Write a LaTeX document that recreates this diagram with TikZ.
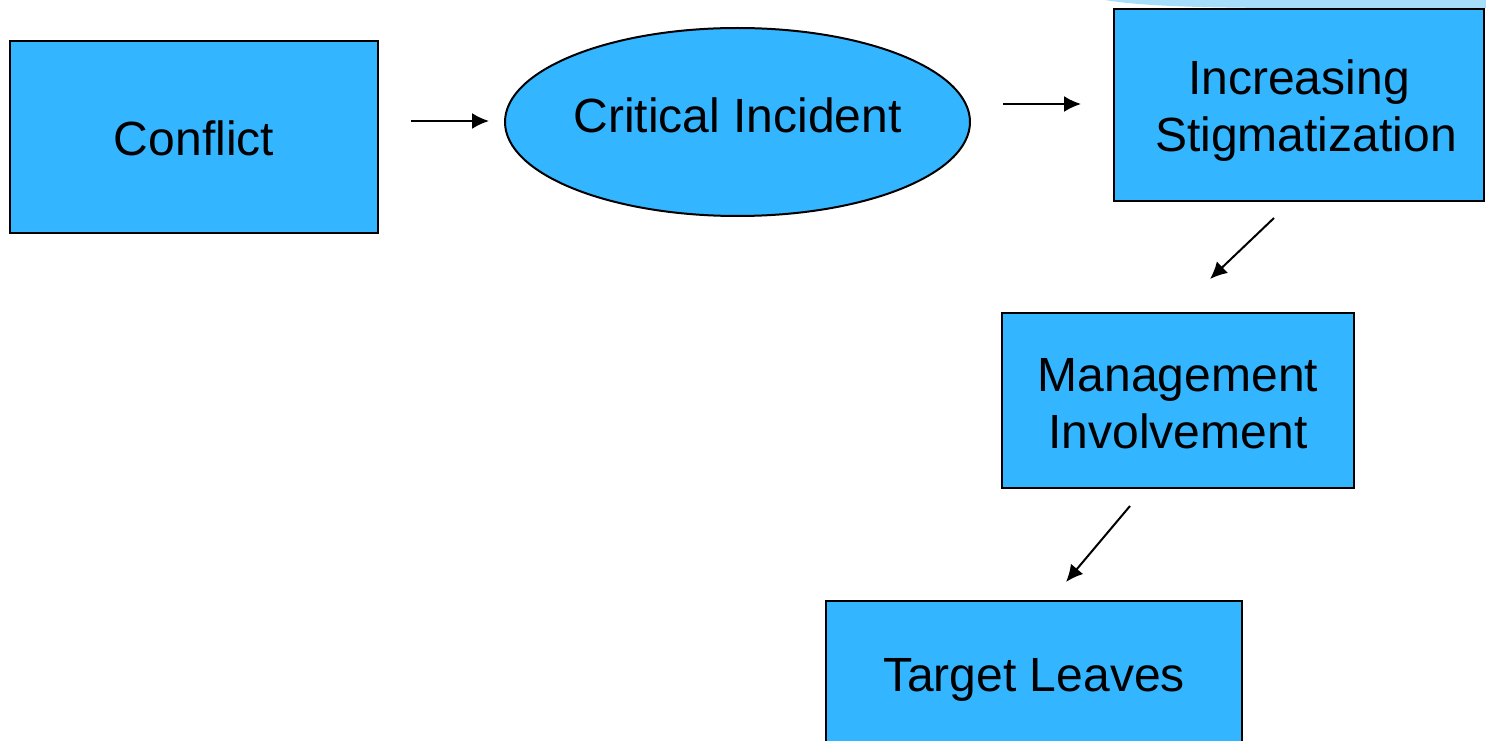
\documentclass[tikz,border=0pt]{standalone}
\usepackage{fontspec}
\setmainfont{Liberation Sans}
\usetikzlibrary{arrows.meta,shapes.geometric}
\definecolor{boxblue}{HTML}{33B5FF}
\definecolor{swoosh}{HTML}{A6DDFB}
\begin{document}
\begin{tikzpicture}[x=1pt,y=-1pt,
  box/.style={draw=black,line width=2pt,fill=boxblue,inner sep=0pt},
  txt/.style={inner sep=0pt,align=center,font=\fontsize{48}{57}\selectfont},
  arr/.style={line width=2pt,-{Latex[length=17pt,width=16pt]}}]
\useasboundingbox (0,0) rectangle (1486,741);
\clip (0,0) rectangle (1486,741);
\fill[white] (0,0) rectangle (1486,741);
\fill[swoosh] (1105,0) .. controls (1140,6) and (1200,8) .. (1300,8) -- (1486,8) -- (1486,0) -- cycle;
\node[box,minimum width=368pt,minimum height=192pt,
  label={[txt,yshift=-1pt]center:Conflict}] (conflict) at (194,137) {};
\node[box,ellipse,minimum width=465pt,minimum height=188pt,
  label={[txt,yshift=7pt]center:Critical Incident}] (critical) at (737.5,122) {};
\node[box,minimum width=370pt,minimum height=192pt,
  label={[txt,yshift=-6pt]center:Increasing\\\hspace*{14pt}Stigmatization}] (incr) at (1299,105) {};
\node[box,minimum width=352pt,minimum height=175pt,
  label={[txt,yshift=-3pt]center:Management\\Involvement}] (mgmt) at (1178,400.5) {};
\node[box,minimum width=416pt,minimum height=150pt,
  label={[txt,yshift=-4pt]center:Target Leaves}] (target) at (1034,676) {};
\draw[arr] ([xshift=32pt,yshift=16pt]conflict.east) -- ([xshift=-15pt,yshift=1pt]critical.west);
\draw[arr] ([xshift=32pt,yshift=18pt]critical.east) -- ([xshift=-32pt,yshift=1pt]incr.west);
\draw[arr] ([xshift=-25pt,yshift=-16pt]incr.south) -- ([xshift=32pt,yshift=33pt]mgmt.north);
\draw[arr] ([xshift=-48pt,yshift=-17pt]mgmt.south) -- ([xshift=32pt,yshift=18pt]target.north);
\end{tikzpicture}
\end{document}
